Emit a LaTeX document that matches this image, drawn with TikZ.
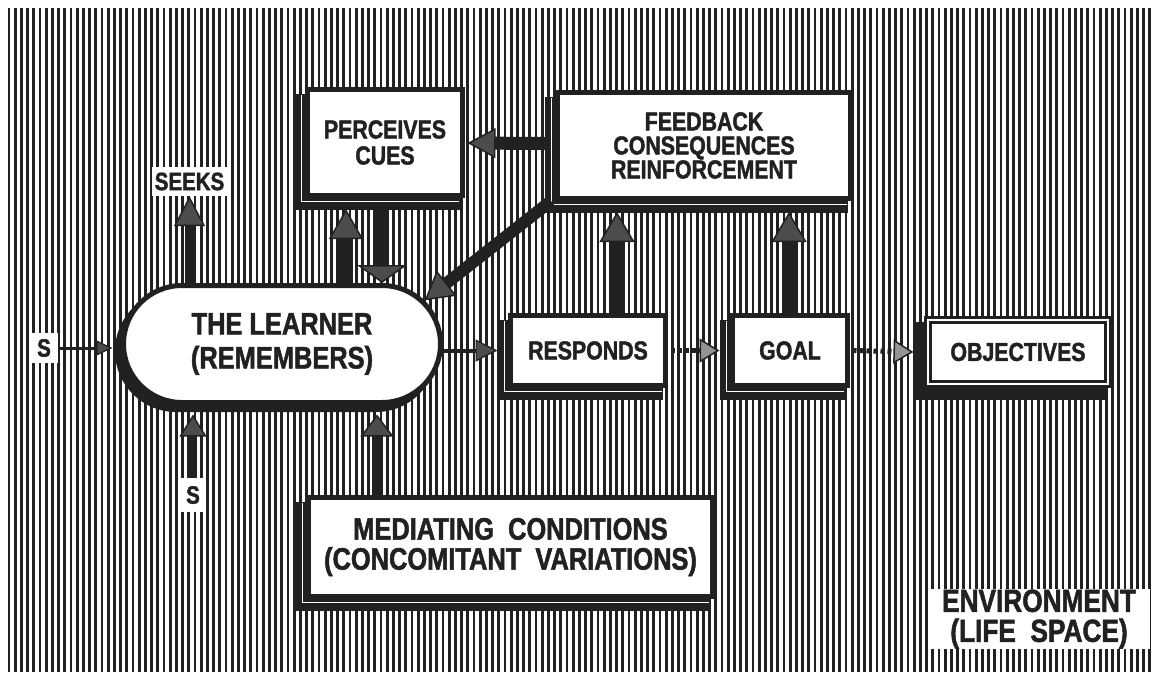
\documentclass[tikz,border=0pt]{standalone}
\usepackage{fontspec}
\setmainfont{Liberation Sans}[FakeStretch=0.82, BoldFeatures={FakeBold=1.6}]
\usetikzlibrary{arrows.meta,calc,shapes.misc}
\pgfdeclarelayer{hatch}
\pgfdeclarelayer{shade}
\pgfsetlayers{hatch,shade,main}
\definecolor{ink}{gray}{0.13}
\definecolor{tipgray}{gray}{0.30}
\newcommand\lblfont[2]{\bfseries\fontsize{#1pt}{#2pt}\selectfont}

\begin{document}
\begin{tikzpicture}[x=1pt,y=-1pt,
  box/.style={draw=ink, line width=5pt, fill=white, inner sep=0pt, text=ink, align=center,
              font=\lblfont{26}{26}},
  dblbox/.style={box, line width=3.6pt, double=white, double distance=1.6pt},
  pill/.style={rounded rectangle, draw=ink, line width=5pt, fill=white, inner sep=0pt,
               text=ink, align=center},
  tag/.style={fill=white, inner sep=0pt, text=ink, align=center},
  fat/.style n args={3}{draw=ink, line width=#1,
      -{Triangle[width=#2,length=#3,fill=tipgray,color=ink,line width=1.5pt]}},
  slim/.style n args={3}{draw=ink, line width=#1,
      -{Triangle[width=#2,length=#3,fill=tipgray,color=ink,line width=1.2pt]}},
  dotarrow/.style={draw=ink, line width=5pt, dash pattern=on 4pt off 3pt,
      -{Triangle[width=24pt,length=20pt,fill=tipgray!60,color=ink,line width=1.5pt]}},
  shadowfill/.style={fill=ink},
  seam/.style={draw=white, line width=1.3pt}
]
\useasboundingbox (0,0) rectangle (1160,678);

% ---------- hatched field (the environment) ----------
\begin{pgfonlayer}{hatch}
  \fill[white] (0,0) rectangle (1160,678);
  \foreach \i in {0,...,184}
    \draw[ink, line width=2.7pt] ({9+6.2*\i},8) -- ({9+6.2*\i},672);
\end{pgfonlayer}

% ---------- boxes ----------
\node[box, minimum width=155pt, minimum height=106pt] (perc) at (385,142.5)
  {PERCEIVES\\CUES};
\node[box, minimum width=293pt, minimum height=106pt, font=\lblfont{26}{24}] (feed) at (704,145.5)
  {FEEDBACK\\CONSEQUENCES\\REINFORCEMENT};
\node[pill, minimum width=317pt, minimum height=117pt, font=\lblfont{31}{34}] (lrn) at (282,344)
  {THE LEARNER\\(REMEMBERS)};
\node[box, minimum width=155pt, minimum height=70pt] (resp) at (588,350.5) {RESPONDS};
\node[box, minimum width=115pt, minimum height=70pt] (goal) at (790,350.5) {GOAL};
\node[dblbox, minimum width=180pt, minimum height=64pt] (obj) at (1018,352) {OBJECTIVES};
\node[box, minimum width=404pt, minimum height=99pt, font=\lblfont{31}{30}] (med) at (510.5,547)
  {MEDIATING\ \ CONDITIONS\\(CONCOMITANT\ \ VARIATIONS)};

% ---------- free labels ----------
\node[tag, minimum width=75pt, minimum height=29pt, font=\lblfont{25}{25}] (seeks) at (189.5,181.5) {SEEKS};
\node[tag, minimum width=28pt, minimum height=30pt, font=\lblfont{25}{25}] (sl) at (44,348) {S};
\node[tag, minimum width=26pt, minimum height=34pt, font=\lblfont{25}{25}] (sb) at (193,495) {S};
\node[tag, minimum width=222pt, minimum height=60pt, font=\lblfont{32}{30}] (env) at (1039,619)
  {ENVIRONMENT\\(LIFE\ \ SPACE)};

% ---------- drop shadows ----------
\begin{pgfonlayer}{shade}
  \foreach \n in {perc,feed,resp,goal,med}{
    \fill[shadowfill] ($(\n.north west)+(-10.5,6.5)$) rectangle ($(\n.south east)+(-5.5,11.5)$);
    \draw[seam] ($(\n.north west)+(-3.8,8)$) -- ($(\n.south west)+(-3.8,3.8)$)
                -- ($(\n.south east)+(-6,3.8)$);
  }
  \fill[shadowfill] ($(obj.north west)+(-12.8,4.2)$) rectangle ($(obj.south east)+(-3.2,13.8)$);
  \node[rounded rectangle, shadowfill, inner sep=0pt, minimum width=322pt, minimum height=122pt]
    (lrnshadow) at ($(lrn)+(-6,7)$) {};
\end{pgfonlayer}

% ---------- helper points on the shadow edges ----------
\coordinate (feedb) at ($(feed.south)+(0,11)$);
\coordinate (lrnb)  at ($(lrn.south)+(0,9.5)$);
\coordinate (pu) at ($(perc.south)+(-39,11)$);
\coordinate (pd) at ($(perc.south)+(-3,11)$);
\coordinate (ru) at ($(resp.north)+(29,0)$);
\coordinate (gu) at ($(goal.north)+(-1,0)$);
\coordinate (mu) at ($(med.north)+(-133.5,0)$);
\coordinate (lw) at ($(lrn.west)+(-8.5,0)$);

% ---------- connectors ----------
\draw[fat={14pt}{34pt}{30pt}] (pu |- lrn.north) -- (pu);
\draw[fat={13pt}{50pt}{18pt}] (pd) -- (pd |- lrn.north);
\draw[fat={9pt}{31pt}{30pt}] (seeks.south |- lrn.north) -- (seeks.south);
\draw[fat={13pt}{30pt}{28pt}] ($(feed.west)+(-10,-2)$) -- ($(perc.east)+(2.5,0.5)$);
\draw[fat={12pt}{32pt}{28pt}] ($(feed.south west)+(-4,0)$) -- (lrn.17);
\draw[fat={15pt}{35pt}{30pt}] (ru) -- (ru |- feedb);
\draw[fat={15pt}{35pt}{30pt}] (gu) -- (gu |- feedb);
\draw[slim={4pt}{22pt}{22pt}] (lrn.east |- resp.west) -- ($(resp.west)+(-10.5,0)$);
\draw[dotarrow] ($(resp.east)+(2.5,0)$) -- ($(goal.west)+(-10.5,0)$);
\draw[dotarrow] ($(goal.east)+(2.5,0)$) -- ($(obj.west)+(-12.8,0)$);
\draw[slim={3pt}{15pt}{16pt}] (sl.east) -- (lw |- sl.east);
\draw[fat={8pt}{27pt}{22pt}] (sb.north) -- (sb.north |- lrnb);
\draw[fat={11pt}{33pt}{22pt}] (mu) -- (mu |- lrnb);
\end{tikzpicture}
\end{document}
